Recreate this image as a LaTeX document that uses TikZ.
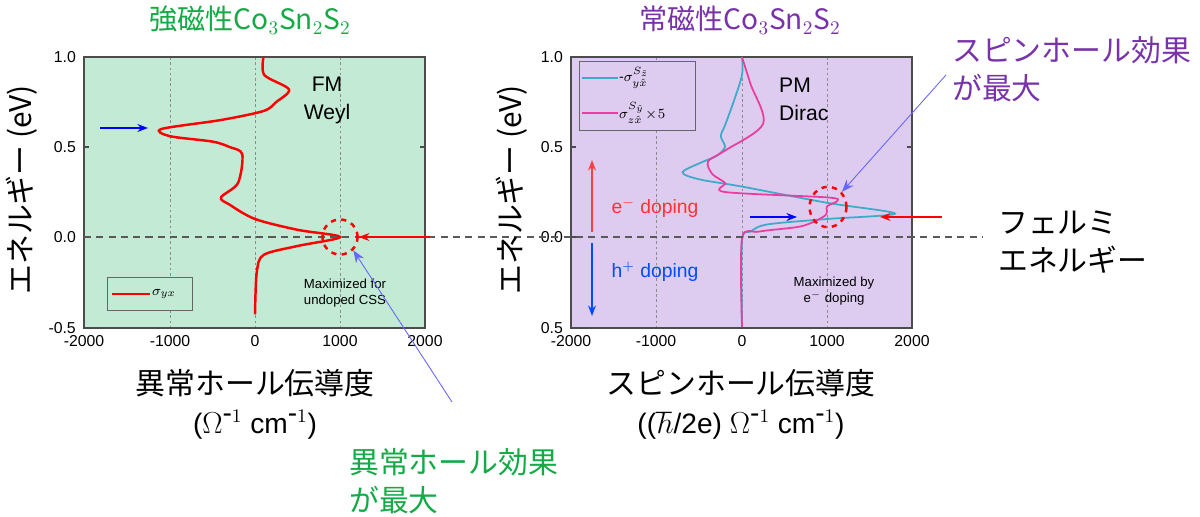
\documentclass[tikz,border=0pt]{standalone}
\usepackage{fontspec}
\setmainfont{Liberation Sans}
\newfontfamily\jp{Noto Sans CJK JP}
\usetikzlibrary{arrows.meta,shapes.geometric}
\definecolor{fmgreen}{RGB}{194,234,212}
\definecolor{pmpurple}{RGB}{221,204,240}
\definecolor{titlegreen}{RGB}{20,170,70}
\definecolor{titlepurple}{RGB}{120,50,170}
\definecolor{curvecyan}{RGB}{60,170,200}
\definecolor{curvepink}{RGB}{235,60,160}
\begin{document}
\begin{tikzpicture}[x=0.02cm, y=-0.02cm,
  frame/.style = {draw=black!70, line width=0.6pt},
  grid/.style = {draw=black!45, dash pattern=on 1.5pt off 1.5pt, line width=0.4pt},
  tick/.style = {font=\fontsize{9}{10}\selectfont},
  axlabel/.style = {font=\jp\fontsize{17}{19}\selectfont},
  unitlabel/.style = {font=\fontsize{16}{18}\selectfont},
  note/.style = {font=\fontsize{7.5}{9}\selectfont, align=center},
  big/.style = {font=\fontsize{12}{14}\selectfont, align=center},
  pointer/.style = {-{Stealth[length=6pt]}, line width=1.6pt},
  callout/.style = {-{Stealth[length=7pt]}, draw=blue!60, line width=0.5pt},
  ring/.style = {draw=red, dashed, line width=1.4pt, inner sep=0pt}]
\path[use as bounding box] (0,0) rectangle (1200,517);
% left panel
\fill[fmgreen] (84,57) rectangle (425,328);
\foreach \gx in {170,255,340} \draw[grid] (\gx,57) -- (\gx,328);
\draw[frame] (84,57) rectangle (425,328);
\foreach \gy in {147,237} {\draw[frame] (84,\gy) -- (89,\gy); \draw[frame] (425,\gy) -- (420,\gy);}
\foreach \gx/\lab in {84/-2000,170/-1000,255/0,340/1000,425/2000} \node[tick] (lx\gx) at (\gx,341) {\lab};
\foreach \gy/\lab in {57/1.0,147/0.5,237/0.0,328/-0.5} \node[tick, anchor=east] (ly\gy) at (82,\gy) {\lab};
\node[draw=black!60, fill=fmgreen, minimum width=48pt, minimum height=19pt] (legfm) at (150,294) {};
\draw[red, line width=1.4pt] (112,294) -- (150,294);
\node[font=\fontsize{8}{9}\selectfont, anchor=west, inner sep=1pt] (sigfm) at (150,294) {$\sigma_{yx}$};
\begin{scope}[shift={(255,237)}, xscale=0.085, yscale=-180]
\draw[red, line width=1.4pt] plot[smooth, tension=0.5] coordinates {(100,1.0) (110,0.9) (400,0.82) (250,0.75) (100,0.7) (-400,0.65) (-1100,0.6) (-1000,0.56) (-500,0.53) (-300,0.5) (-150,0.46) (-200,0.3) (-400,0.22) (-300,0.18) (0,0.1) (500,0.04) (1000,0) (500,-0.05) (100,-0.1) (20,-0.2) (0,-0.43)};
\end{scope}
\node[big] (fm) at (327,100) {FM\\[2pt]Weyl};
\node[note] (maxfm) at (345,293) {Maximized for\\undoped CSS};
% right panel
\fill[pmpurple] (571,57) rectangle (912,328);
\foreach \gx in {656,742,827} \draw[grid] (\gx,57) -- (\gx,328);
\draw[frame] (571,57) rectangle (912,328);
\foreach \gy in {147,237} {\draw[frame] (571,\gy) -- (576,\gy); \draw[frame] (912,\gy) -- (907,\gy);}
\foreach \gx/\lab in {571/-2000,656/-1000,742/0,827/1000,912/2000} \node[tick] (rx\gx) at (\gx,341) {\lab};
\foreach \gy/\lab in {57/1.0,147/0.5,237/0.0,328/0.5} \node[tick, anchor=east] (ry\gy) at (569,\gy) {\lab};
\node[draw=black!60, fill=pmpurple, minimum width=66pt, minimum height=39pt] (legpm) at (637,96) {};
\draw[curvecyan, line width=1pt] (582,78) -- (618,78);
\draw[curvepink, line width=1pt] (582,113) -- (618,113);
\node[font=\fontsize{8}{9}\selectfont, anchor=west, inner sep=1pt] (sigpm1) at (617,78) {-$\sigma^{S_{\hat z}}_{y\hat x}$};
\node[font=\fontsize{8}{9}\selectfont, anchor=west, inner sep=1pt] (sigpm2) at (617,113) {$\sigma^{S_{\hat y}}_{z\hat x}\!\times\!5$};
\begin{scope}[shift={(742,237)}, xscale=0.085, yscale=-180]
\draw[curvecyan, line width=1pt] plot[smooth, tension=0.5] coordinates {(0,1.0) (0,0.9) (-100,0.75) (-200,0.62) (-250,0.56) (-200,0.5) (-300,0.45) (-450,0.42) (-700,0.36) (-500,0.32) (0,0.28) (1000,0.19) (1800,0.13) (1000,0.1) (300,0.07) (100,0.03) (0,-0.02) (0,-0.5)};
\draw[curvepink, line width=1pt] plot[smooth, tension=0.5] coordinates {(0,1.0) (100,0.85) (250,0.63) (-200,0.48) (-400,0.42) (-350,0.35) (-200,0.3) (-200,0.25) (1000,0.22) (1120,0.2) (1000,0.17) (980,0.12) (700,0.06) (200,0.03) (0,-0.01) (0,-0.5)};
\end{scope}
\node[big, align=left, anchor=west] (pm) at (773,99) {PM\\[2pt]Dirac};
\node[note] (maxpm) at (834,291) {Maximized by\\e$^{-}$ doping};
\node[font=\fontsize{11}{13}\selectfont, text=red!80] (edop) at (655,208) {e$^{-}$ doping};
\node[font=\fontsize{11}{13}\selectfont, text=blue!70!cyan] (hdop) at (655,272) {h$^{+}$ doping};
\coordinate (eup0) at (592,232); \coordinate (eup1) at (592,160);
\coordinate (hdn0) at (592,243); \coordinate (hdn1) at (592,316);
\draw[-{Stealth[length=6pt]}, red!75, line width=0.8pt] (eup0) -- (eup1);
\draw[-{Stealth[length=6pt]}, blue!70!cyan, line width=0.8pt] (hdn0) -- (hdn1);
% Fermi level
\coordinate (ef0) at (84,237); \coordinate (ef1) at (982,237);
\draw[black!65, dash pattern=on 4pt off 3pt, line width=0.6pt] (ef0) -- (ef1);
\node[font=\jp\fontsize{17}{22}\selectfont, align=left, anchor=west] (fermi) at (992,242) {フェルミ\\エネルギー};
% markers
\node[ring, circle, minimum size=20pt] (ringfm) at (340,237) {};
\node[ring, ellipse, minimum width=21pt, minimum height=23pt] (ringpm) at (828,207) {};
\coordinate (rfm0) at (430,237); \coordinate (rpm0) at (942,217);
\draw[pointer, red] (rfm0) -- (ringfm.east);
\draw[pointer, red] (rpm0) -- (880,217);
\coordinate (bfm0) at (100,128); \coordinate (bfm1) at (148,128);
\coordinate (bpm0) at (750,217); \coordinate (bpm1) at (797,217);
\draw[pointer, blue] (bfm0) -- (bfm1);
\draw[pointer, blue] (bpm0) -- (bpm1);
% titles and labels
\node[font=\jp\fontsize{16}{18}\selectfont, text=titlegreen] (tfm) at (250,20) {強磁性Co$_3$Sn$_2$S$_2$};
\node[font=\jp\fontsize{16}{18}\selectfont, text=titlepurple] (tpm) at (740,20) {常磁性Co$_3$Sn$_2$S$_2$};
\node[axlabel, rotate=90] (yfm) at (22,190) {エネルギー (eV)};
\node[axlabel, rotate=90] (ypm) at (512,190) {エネルギー (eV)};
\node[axlabel] (xfm) at (255,383) {異常ホール伝導度};
\node[unitlabel] (ufm) at (255,425) {($\Omega^{\mbox{-}1}$ cm$^{\mbox{-}1}$)};
\node[axlabel] (xpm) at (741,383) {スピンホール伝導度};
\node[unitlabel] (upm) at (741,425) {(($\hbar$/2e) $\Omega^{\mbox{-}1}$ cm$^{\mbox{-}1}$)};
\node[font=\jp\fontsize{17}{22}\selectfont, text=titlegreen, align=left, anchor=north west] (ahe) at (343,442) {異常ホール効果\\が最大};
\node[font=\jp\fontsize{17}{22}\selectfont, text=titlepurple, align=left, anchor=north west] (she) at (946,30) {スピンホール効果\\が最大};
\coordinate (ahe0) at (452,402); \coordinate (she0) at (946,75);
\draw[callout] (ahe0) -- (ringfm.south east);
\draw[callout] (she0) -- (ringpm.north east);
\end{tikzpicture}
\end{document}
